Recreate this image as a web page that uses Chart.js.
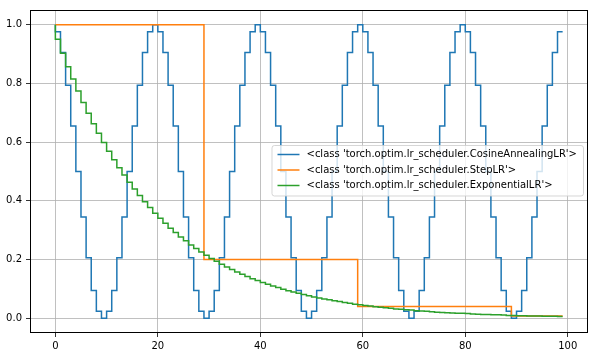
<!DOCTYPE html>
<html>
<head>
<meta charset="utf-8">
<script src="https://cdn.jsdelivr.net/npm/chart.js@4.4.1/dist/chart.umd.min.js"></script>
<style>
html,body{margin:0;padding:0;background:#fff;}
#wrap{width:595px;height:357px;position:relative;}
</style>
</head>
<body>
<div id="wrap"><canvas id="c" width="595" height="357"></canvas></div>
<script>
const epochs = [0,1,2,3,4,5,6,7,8,9,10,11,12,13,14,15,16,17,18,19,20,21,22,23,24,25,26,27,28,29,30,31,32,33,34,35,36,37,38,39,40,41,42,43,44,45,46,47,48,49,50,51,52,53,54,55,56,57,58,59,60,61,62,63,64,65,66,67,68,69,70,71,72,73,74,75,76,77,78,79,80,81,82,83,84,85,86,87,88,89,90,91,92,93,94,95,96,97,98,99];

const cosineLR = [
1.0,0.976,0.905,0.794,0.655,0.5,0.345,0.206,0.095,0.024,0.0,0.024,0.095,0.206,0.345,0.5,0.655,0.794,0.905,0.976,
1.0,0.976,0.905,0.794,0.655,0.5,0.345,0.206,0.095,0.024,0.0,0.024,0.095,0.206,0.345,0.5,0.655,0.794,0.905,0.976,
1.0,0.976,0.905,0.794,0.655,0.5,0.345,0.206,0.095,0.024,0.0,0.024,0.095,0.206,0.345,0.5,0.655,0.794,0.905,0.976,
1.0,0.976,0.905,0.794,0.655,0.5,0.345,0.206,0.095,0.024,0.0,0.024,0.095,0.206,0.345,0.5,0.655,0.794,0.905,0.976,
1.0,0.976,0.905,0.794,0.655,0.5,0.345,0.206,0.095,0.024,0.0,0.024,0.095,0.206,0.345,0.5,0.655,0.794,0.905,0.976];

const stepLR = [
1,1,1,1,1,1,1,1,1,1,1,1,1,1,1,1,1,1,1,1,1,1,1,1,1,1,1,1,1,1,
0.2,0.2,0.2,0.2,0.2,0.2,0.2,0.2,0.2,0.2,0.2,0.2,0.2,0.2,0.2,0.2,0.2,0.2,0.2,0.2,0.2,0.2,0.2,0.2,0.2,0.2,0.2,0.2,0.2,0.2,
0.04,0.04,0.04,0.04,0.04,0.04,0.04,0.04,0.04,0.04,0.04,0.04,0.04,0.04,0.04,0.04,0.04,0.04,0.04,0.04,0.04,0.04,0.04,0.04,0.04,0.04,0.04,0.04,0.04,0.04,
0.008,0.008,0.008,0.008,0.008,0.008,0.008,0.008,0.008,0.008];

const expLR = [
1.0,0.95,0.903,0.857,0.815,0.774,0.735,0.698,0.663,0.630,
0.599,0.569,0.540,0.513,0.488,0.463,0.440,0.418,0.397,0.377,
0.358,0.341,0.324,0.307,0.292,0.277,0.264,0.250,0.238,0.226,
0.215,0.204,0.194,0.184,0.175,0.166,0.158,0.150,0.142,0.135,
0.129,0.122,0.116,0.110,0.105,0.099,0.094,0.090,0.085,0.081,
0.077,0.073,0.069,0.066,0.063,0.060,0.057,0.054,0.051,0.048,
0.046,0.044,0.042,0.039,0.038,0.036,0.034,0.032,0.031,0.029,
0.028,0.026,0.025,0.024,0.022,0.021,0.020,0.019,0.018,0.017,
0.017,0.016,0.015,0.014,0.013,0.013,0.012,0.012,0.011,0.010,
0.010,0.009,0.009,0.008,0.008,0.008,0.007,0.007,0.007,0.006];

const seriesNames = [
"<class 'torch.optim.lr_scheduler.CosineAnnealingLR'>",
"<class 'torch.optim.lr_scheduler.StepLR'>",
"<class 'torch.optim.lr_scheduler.ExponentialLR'>"];
const seriesColors = ['#1f77b4','#ff7f0e','#2ca02c'];

const xTicks = [0,20,40,60,80,100];
const yTicks = [0.0,0.2,0.4,0.6,0.8,1.0];

const FONT = "DejaVu Sans";

function pts(ys){ return epochs.map((x,i)=>({x:x,y:ys[i]})); }

const frame = {
  id:'frame',
  afterDatasetsDraw(chart){
    const {ctx, chartArea:a} = chart;
    const ds = chart.data.datasets;
    ctx.save();
    ctx.font = '10px "' + FONT + '"';
    let maxW = 0;
    ds.forEach(d=>{ maxW = Math.max(maxW, ctx.measureText(d.label).width); });
    const rowH = 15.5;
    const boxW = 35 + maxW + 6;
    const boxH = rowH*ds.length + 4;
    const bx = 583 - boxW, by = 145;
    ctx.beginPath();
    if (ctx.roundRect) ctx.roundRect(bx+0.5, by+0.5, boxW, boxH, 2.5); else ctx.rect(bx+0.5,by+0.5,boxW,boxH);
    ctx.fillStyle = 'rgba(255,255,255,0.8)';
    ctx.fill();
    ctx.strokeStyle = 'rgba(204,204,204,0.8)';
    ctx.lineWidth = 1;
    ctx.stroke();
    ds.forEach((d,i)=>{
      const cy = by + 9.5 + i*rowH;
      ctx.beginPath();
      ctx.moveTo(bx+6, cy); ctx.lineTo(bx+28, cy);
      ctx.strokeStyle = d.borderColor; ctx.lineWidth = 1.5; ctx.stroke();
      ctx.fillStyle = '#000';
      ctx.textBaseline = 'middle';
      ctx.fillText(d.label, bx+35, cy);
    });
    ctx.restore();
  },
  afterDraw(chart){
    const {ctx, chartArea:a} = chart;
    ctx.save();
    ctx.strokeStyle = '#000';
    ctx.lineWidth = 1;
    ctx.strokeRect(Math.round(a.left)+0.5, Math.round(a.top)+0.5, Math.round(a.right-a.left)-1, Math.round(a.bottom-a.top)-1);
    ctx.restore();
  }
};

new Chart(document.getElementById('c'), {
  type:'line',
  data:{
    datasets: seriesNames.map((n,i)=>({
      label:n,
      data: pts([cosineLR, stepLR, expLR][i]),
      borderColor: seriesColors[i],
      backgroundColor: seriesColors[i],
      borderWidth:1.5,
      pointRadius:0,
      stepped:'after',
      fill:false,
      order: 3-i
    }))
  },
  options:{
    responsive:false,
    animation:false,
    devicePixelRatio:1,
    layout:{padding:{left:0, top:4, right:7, bottom:0}},
    plugins:{legend:{display:false}, tooltip:{enabled:false}},
    scales:{
      x:{
        type:'linear', min:-4.95, max:103.95,
        afterBuildTicks(s){ s.ticks = xTicks.map(v=>({value:v})); },
        afterFit(s){ s.height = 24; },
        grid:{color:'#b0b0b0', lineWidth:0.8, tickColor:'#000', tickLength:4, drawTicks:true},
        border:{display:false},
        ticks:{font:{family:FONT, size:10}, color:'#000', padding:3, maxRotation:0,
               callback:(v)=>String(v)}
      },
      y:{
        type:'linear', min:-0.05, max:1.05,
        afterBuildTicks(s){ s.ticks = yTicks.map(v=>({value:v})); },
        afterFit(s){ s.width = 30; },
        grid:{color:'#b0b0b0', lineWidth:0.8, tickColor:'#000', tickLength:4, drawTicks:true},
        border:{display:false},
        ticks:{font:{family:FONT, size:10}, color:'#000', padding:4,
               callback:(v)=>v.toFixed(1)}
      }
    }
  },
  plugins:[frame]
});
</script>
</body>
</html>
